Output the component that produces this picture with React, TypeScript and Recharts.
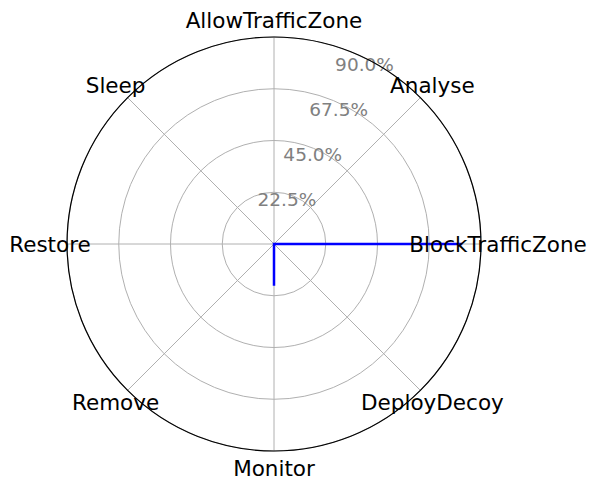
import React from "react";
import { RadarChart, Radar, PolarGrid, PolarAngleAxis, PolarRadiusAxis } from "recharts";

// Listed clockwise from the top, as the chart shows them
const categories = [
  "AllowTrafficZone",
  "Analyse",
  "BlockTrafficZone",
  "DeployDecoy",
  "Monitor",
  "Remove",
  "Restore",
  "Sleep",
];
const shareValues = [0, 0, 81.82, 0, 18.18, 0, 0, 0];
const radiusTicks = [22.5, 45, 67.5, 90];

const data = categories.map((c, i) => ({ category: c, value: shareValues[i] }));

const FONT = "'DejaVu Sans', sans-serif";

const renderAngleTick = (props: any) => {
  const { x, y, payload, index } = props;
  const a = (payload.coordinate * Math.PI) / 180;
  const d = 9;
  const tx = x + d * Math.cos(a);
  const ty = y - d * Math.sin(a);
  return (
    <text
      key={`at-${index}`}
      x={tx}
      y={ty}
      textAnchor="middle"
      dominantBaseline="central"
      style={{ fontFamily: FONT, fontSize: 21.5, fill: "#000000" }}
    >
      {payload.value}
    </text>
  );
};

const renderRadiusTick = (props: any) => {
  const { x, y, payload, index } = props;
  return (
    <text
      key={`rt-${index}`}
      x={x - 13}
      y={y}
      textAnchor="middle"
      dominantBaseline="central"
      style={{ fontFamily: FONT, fontSize: 18.5, fill: "#808080" }}
    >
      {`${Number(payload.value).toFixed(1)}%`}
    </text>
  );
};

export default function App() {
  return (
    <div style={{ width: 590, height: 481 }}>
      <RadarChart
        width={590}
        height={481}
        data={data}
        cx={266}
        cy={236}
        outerRadius={207}
        startAngle={90}
        endAngle={-270}
        margin={{ top: 0, right: 0, bottom: 0, left: 0 }}
      >
        <PolarGrid gridType="circle" stroke="#b0b0b0" strokeWidth={1} />
        <PolarRadiusAxis
          angle={60}
          domain={[0, 90]}
          ticks={radiusTicks as any}
          tick={renderRadiusTick}
          axisLine={false}
          tickLine={false}
          type="number"
        />
        <PolarAngleAxis
          dataKey="category"
          axisLineType="circle"
          axisLine={{ stroke: "#000000", strokeWidth: 1.2 }}
          tickLine={false}
          tick={renderAngleTick}
        />
        <Radar
          dataKey="value"
          stroke="#0000ff"
          strokeWidth={2.5}
          fill="none"
          fillOpacity={0}
          dot={false}
          isAnimationActive={false}
        />
      </RadarChart>
    </div>
  );
}
